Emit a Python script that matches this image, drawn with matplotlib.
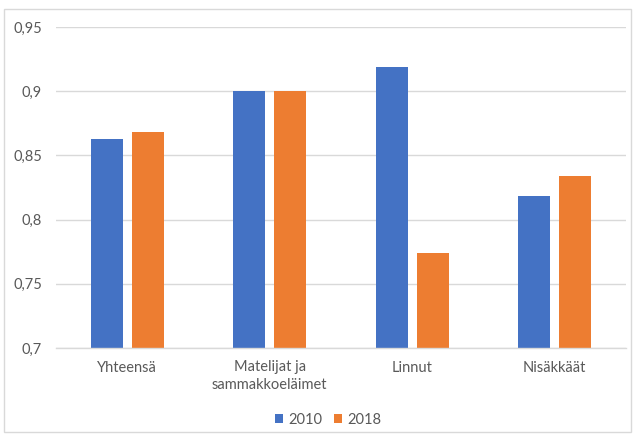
import matplotlib
matplotlib.use("Agg")
import matplotlib.pyplot as plt
from matplotlib.patches import Rectangle
import numpy as np

categories = ["Yhteensä", "Matelijat ja\nsammakkoeläimet", "Linnut", "Nisäkkäät"]
series_names = ["2010", "2018"]
values_2010 = [0.863, 0.900, 0.919, 0.818]
values_2018 = [0.868, 0.900, 0.774, 0.834]
yticks = [0.7, 0.75, 0.8, 0.85, 0.9, 0.95]
ytick_labels = ["0,7", "0,75", "0,8", "0,85", "0,9", "0,95"]

colors = ["#4472C4", "#ED7D31"]
text_color = "#595959"

plt.rcParams['font.family'] = ['Lato', 'DejaVu Sans']

fig = plt.figure(figsize=(6.36, 4.34), dpi=100)
W, H = 636, 434
ax = fig.add_axes([56 / W, 1 - 348 / H, (626 - 56) / W, (348 - 27) / H])

x = np.arange(len(categories))
bw = 0.225
off = 0.144
ax.bar(x - off, values_2010, bw, color=colors[0], label=series_names[0], zorder=3)
ax.bar(x + off, values_2018, bw, color=colors[1], label=series_names[1], zorder=3)

ax.set_xlim(-0.5, len(categories) - 0.5)
ax.set_ylim(0.7, 0.95)
ax.set_yticks(yticks)
ax.set_yticklabels(ytick_labels)
ax.set_xticks(x)
ax.set_xticklabels(categories, linespacing=1.3)
ax.tick_params(axis='both', length=0, colors=text_color, labelsize=10.5)
ax.tick_params(axis='y', pad=10)
ax.tick_params(axis='x', pad=9)
ax.grid(axis='y', color='#D9D9D9', linewidth=1, zorder=0)
for s in ['top', 'right', 'left']:
    ax.spines[s].set_visible(False)
ax.spines['bottom'].set_color('#D9D9D9')
ax.spines['bottom'].set_linewidth(1)
ax.spines['bottom'].set_zorder(4)

leg = fig.legend(loc='center', bbox_to_anchor=(328 / W, 1 - 420 / H), ncol=2,
                 frameon=False, fontsize=10.5, handlelength=0.55, handleheight=0.55,
                 handletextpad=0.35, columnspacing=0.8)
for t in leg.get_texts():
    t.set_color(text_color)

fig.patches.append(Rectangle((4 / W, 1 - 432 / H), (631 - 4) / W, (432 - 9) / H,
                             transform=fig.transFigure, fill=False,
                             edgecolor='#D9D9D9', linewidth=1))

fig.savefig("out.png", dpi=100)
